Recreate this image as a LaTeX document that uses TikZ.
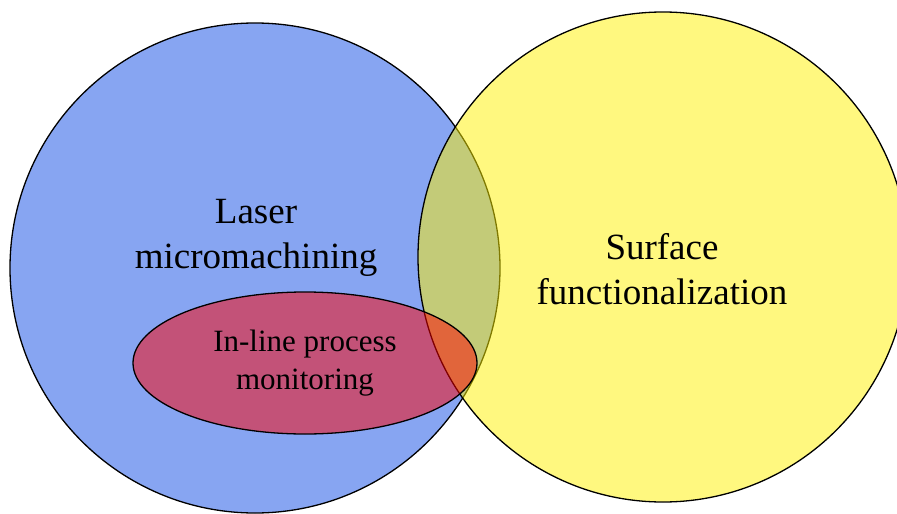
\documentclass[tikz,border=0pt]{standalone}
\usepackage{fontspec}
\setmainfont{Liberation Serif}
\usetikzlibrary{shapes.geometric}
\definecolor{laserblue}{RGB}{135,165,242}
\tikzset{
  setcircle/.style={circle, draw=black, line width=1.3pt, minimum size=#1, inner sep=0pt},
  bigtext/.style={align=center, font=\fontsize{37}{45}\selectfont},
  smalltext/.style={align=center, font=\fontsize{31}{38}\selectfont}
}
\begin{document}
\begin{tikzpicture}[x=1pt,y=-1pt]
  \useasboundingbox (0,0) rectangle (897,514);
  \begin{scope}
    \clip (0,0) rectangle (897,514);
    % laser micromachining set
    \node[setcircle=490pt, fill=laserblue] (laser) at (255,268) {};
    % surface functionalization set, half-transparent fill
    \node[setcircle=490pt, fill=yellow, fill opacity=0.5] (surface) at (663,257) {};
    % in-line process monitoring subset
    \node[ellipse, draw=black, line width=1.3pt, fill=red, fill opacity=0.5,
          minimum width=344pt, minimum height=142pt, inner sep=0pt] (monitor) at (305,363) {};
  \end{scope}
  \node[bigtext] (lasertxt) at (256,238) {Laser\\micromachining};
  \node[bigtext] (surftxt) at (662,269) {Surface\\functionalization};
  \node[smalltext] (montxt) at (305,363) {In-line process\\monitoring};
\end{tikzpicture}
\end{document}
